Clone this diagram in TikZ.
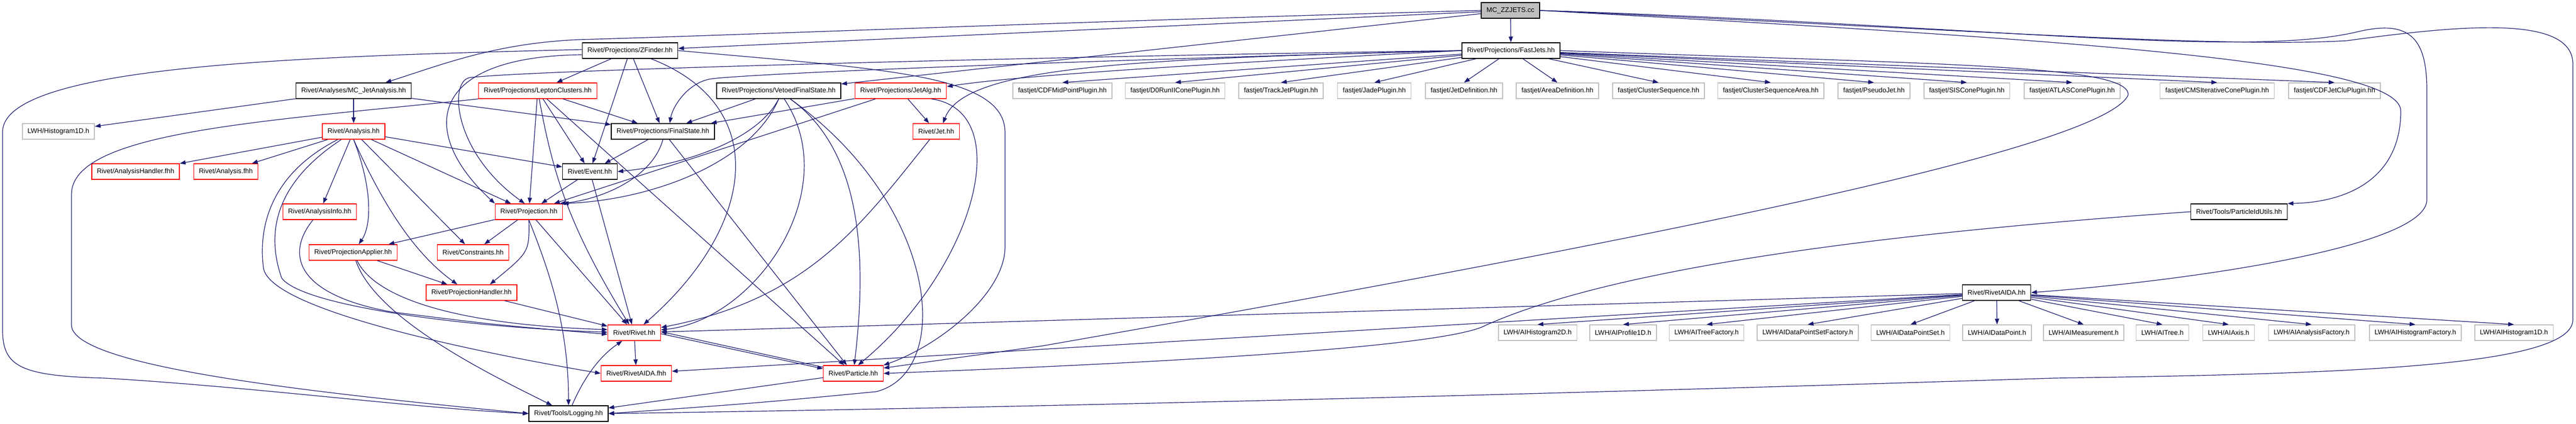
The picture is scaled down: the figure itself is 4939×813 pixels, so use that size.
\documentclass[tikz,border=0pt]{standalone}
\usepackage{fontspec}
\setmainfont{Liberation Sans}
\usetikzlibrary{arrows.meta}

\definecolor{edgeblue}{HTML}{191970}
\definecolor{boxgrey}{HTML}{BFBFBF}
\definecolor{boxred}{HTML}{FF0000}

\begin{document}
\begin{tikzpicture}[x=1pt, y=1pt,
    hdr/.style={draw, line width=1.5pt, minimum height=30pt, inner xsep=10pt, inner ysep=0pt, font=\fontsize{13}{15}\selectfont},
    blk/.style={hdr, draw=black},
    trunc/.style={hdr, draw=boxred},
    ext/.style={hdr, draw=boxgrey},
    dep/.style={draw=edgeblue, line width=1.2pt, -{Triangle[length=11pt, width=8pt]}}]

    \useasboundingbox (0,0) rectangle (4939,813);

    \node[blk, fill=boxgrey] (zz) at (2896,793) {MC\_ZZJETS.cc};
    \node[blk] (zfind) at (1208,716) {Rivet/Projections/ZFinder.hh};
    \node[blk] (fastjets) at (2897,716) {Rivet/Projections/FastJets.hh};
    \node[blk] (mcja) at (678,639) {Rivet/Analyses/MC\_JetAnalysis.hh};
    \node[trunc] (lepclus) at (1031,639) {Rivet/Projections/LeptonClusters.hh};
    \node[blk] (vetofs) at (1493,639) {Rivet/Projections/VetoedFinalState.hh};
    \node[trunc] (jetalg) at (1727,639) {Rivet/Projections/JetAlg.hh};
    \node[ext] (histo) at (112,561) {LWH/Histogram1D.h};
    \node[trunc] (analysis) at (678,561) {Rivet/Analysis.hh};
    \node[blk] (finalst) at (1271,561) {Rivet/Projections/FinalState.hh};
    \node[trunc] (jet) at (1795,561) {Rivet/Jet.hh};
    \node[trunc] (anhandf) at (260,484) {Rivet/AnalysisHandler.fhh};
    \node[trunc] (anfhh) at (433,484) {Rivet/Analysis.fhh};
    \node[blk] (event) at (1131,484) {Rivet/Event.hh};
    \node[trunc] (aninfo) at (613,407) {Rivet/AnalysisInfo.hh};
    \node[trunc] (proj) at (1014,407) {Rivet/Projection.hh};
    \node[blk] (pidutils) at (4293,407) {Rivet/Tools/ParticleIdUtils.hh};
    \node[trunc] (papplier) at (677,329) {Rivet/ProjectionApplier.hh};
    \node[trunc] (constr) at (907,329) {Rivet/Constraints.hh};
    \node[trunc] (phandler) at (904,252) {Rivet/ProjectionHandler.hh};
    \node[blk] (rivetaida) at (3828,252) {Rivet/RivetAIDA.hh};
    \node[trunc] (rivet) at (1216,175) {Rivet/Rivet.hh};
    \node[trunc] (aidafhh) at (1220,97) {Rivet/RivetAIDA.fhh};
    \node[trunc] (particle) at (1636,97) {Rivet/Particle.hh};
    \node[blk] (logging) at (1090,20) {Rivet/Tools/Logging.hh};

    \foreach \n/\x/\lab in {1/2037/CDFMidPointPlugin, 2/2253/D0RunIIConePlugin, 3/2456/TrackJetPlugin,
        4/2635/JadePlugin, 5/2807/JetDefinition, 6/2986/AreaDefinition, 7/3180/ClusterSequence,
        8/3395/ClusterSequenceArea, 9/3593/PseudoJet, 10/3771/SISConePlugin, 11/3973/ATLASConePlugin,
        12/4251/CMSIterativeConePlugin, 13/4476/CDFJetCluPlugin}{
        \node[ext] (fj\n) at (\x,639) {fastjet/\lab.hh};
    }
    \foreach \n/\x/\lab in {1/2948/AIHistogram2D, 2/3112/AIProfile1D, 3/3272/AITreeFactory,
        4/3466/AIDataPointSetFactory, 5/3663/AIDataPointSet, 6/3829/AIDataPoint, 7/3995/AIMeasurement,
        8/4146/AITree, 9/4273/AIAxis, 10/4432/AIAnalysisFactory, 11/4631/AIHistogramFactory, 12/4820/AIHistogram1D}{
        \node[ext] (lwh\n) at (\x,175) {LWH/\lab.h};
    }

    \draw[dep] (zz.west) .. controls (2000,770) and (1400,745) .. (1110,737) .. controls (950,730) and (850,690) .. ([xshift=-50]mcja.north east);
    \draw[dep] (zz) -- (zfind);
    \draw[dep] (zz) -- (vetofs);
    \draw[dep] (zz) -- (fastjets);
    \draw[dep] (zz.east) .. controls (3900,740) and (4603,700) .. (4603,600) .. controls (4603,470) and (4500,425) .. (pidutils.north east);
    \draw[dep] (zz.east) .. controls (3800,765) and (4300,700) .. (4520,752) .. controls (4620,776) and (4653,740) .. (4653,640) -- (4653,430) .. controls (4653,340) and (4200,275) .. (rivetaida.east);
    \draw[dep] (zz.east) .. controls (3700,760) and (4250,720) .. (4500,735) .. controls (4720,765) and (4933,785) .. (4933,690) -- (4933,200) .. controls (4933,110) and (4500,96) .. (3939,88) .. controls (3000,58) and (2000,32) .. (logging.east);

    \draw[dep] (zfind) -- (lepclus);
    \draw[dep] (zfind) -- (finalst);
    \draw[dep] (zfind) -- (event);
    \draw[dep] (zfind) .. controls (1480,610) and (1450,380) .. (rivet);
    \draw[dep] ([yshift=-8]zfind.west) .. controls (820,705) and (800,560) .. (proj.north west);
    \draw[dep] (zfind.east) .. controls (1700,680) and (1925,670) .. (1927,560) -- (1927,340) .. controls (1927,250) and (1800,150) .. (particle.north east);
    \draw[dep] ([yshift=2]zfind.west) .. controls (600,705) and (5,690) .. (5,560) -- (5,180) .. controls (5,110) and (40,92) .. (200,88) .. controls (500,70) and (800,30) .. (logging.west);

    \foreach \n in {1,...,13}{
        \draw[dep] (fastjets) -- (fj\n.north);
    }
    \draw[dep] (fastjets.west) .. controls (2300,690) and (1950,668) .. ([yshift=8]jetalg.east);
    \draw[dep] (fastjets.west) .. controls (2200,700) and (1850,690) .. (jet.50);
    \draw[dep] (fastjets.west) .. controls (2000,695) and (1450,672) .. (1365,662) .. controls (1320,656) and (1290,610) .. ([xshift=13]finalst.north);
    \draw[dep] (fastjets.west) .. controls (2000,705) and (1000,678) .. (900,664) .. controls (860,656) and (870,520) .. ([xshift=-8]proj.north);
    \draw[dep] (fastjets.east) .. controls (3700,690) and (4090,690) .. (4080,630) .. controls (4030,530) and (3200,360) .. (2000,150) -- (particle.10);

    \draw[dep] (mcja) -- (histo);
    \draw[dep] (mcja) -- (analysis);
    \draw[dep] (mcja) -- (finalst);

    \draw[dep] (lepclus) -- (finalst);
    \draw[dep] (lepclus) -- (event);
    \draw[dep] (lepclus) -- (proj);
    \draw[dep] (lepclus) -- (particle);
    \draw[dep] (lepclus) .. controls (1060,480) and (1090,380) .. (rivet);
    \draw[dep] (lepclus.south west) .. controls (500,580) and (137,560) .. (137,440) -- (137,190) .. controls (137,110) and (600,60) .. (logging.west);

    \draw[dep] (vetofs) -- (finalst);
    \draw[dep] (vetofs.south) .. controls (1450,540) and (1300,495) .. (event.east);
    \draw[dep] (vetofs.south) .. controls (1440,500) and (1250,430) .. (proj.north east);
    \draw[dep] (vetofs) .. controls (1620,450) and (1450,200) .. (rivet);
    \draw[dep] (vetofs) .. controls (1660,520) and (1660,300) .. (particle);
    \draw[dep] (vetofs) .. controls (1800,420) and (1830,100) .. (1680,62) .. controls (1450,40) .. (logging.east);

    \draw[dep] (jetalg) -- (finalst);
    \draw[dep] (jetalg) -- (jet);
    \draw[dep] (jetalg) -- (proj);
    \draw[dep] (jetalg.-15) .. controls (1950,600) and (1870,300) .. (particle.60);

    \draw[dep] (finalst) -- (event);
    \draw[dep] (finalst.south) .. controls (1250,470) and (1150,430) .. ([xshift=-6]proj.north east);
    \draw[dep] (finalst) -- (particle);

    \draw[dep] (jet) .. controls (1650,380) and (1550,240) .. (rivet);

    \draw[dep] (analysis) -- (anhandf);
    \draw[dep] (analysis) -- (anfhh);
    \draw[dep] (analysis) -- (aninfo);
    \draw[dep] (analysis.south) .. controls (715,450) and (712,380) .. (papplier);
    \draw[dep] (analysis) -- (constr);
    \draw[dep] (analysis.south) .. controls (730,430) and (790,330) .. (phandler.150);
    \draw[dep] (analysis) -- (proj);
    \draw[dep] (analysis) -- (event);
    \draw[dep] (analysis) .. controls (540,470) and (505,380) .. (540,280) .. controls (580,225) and (900,185) .. ([yshift=1]rivet.west);
    \draw[dep] (analysis) .. controls (520,480) and (495,380) .. (505,300) .. controls (515,220) and (900,140) .. (aidafhh.west);

    \draw[dep] (aninfo) .. controls (550,330) and (560,250) .. (750,215) .. controls (950,190) .. ([yshift=-3]rivet.west);

    \draw[dep] (papplier) -- (phandler);
    \draw[dep] (papplier) .. controls (720,240) and (880,190) .. ([yshift=6]rivet.west);
    \draw[dep] (papplier) .. controls (720,200) and (950,90) .. (logging);

    \draw[dep] (phandler) -- (rivet);

    \draw[dep] (proj) -- (papplier);
    \draw[dep] (proj) -- (constr);
    \draw[dep] (proj.south) .. controls (1015,330) .. (phandler.24);
    \draw[dep] (proj) -- (rivet);
    \draw[dep] (proj.south) .. controls +(40,-100) and +(0,150) .. (logging.north);

    \draw[dep] (event) -- (proj);
    \draw[dep] (event) -- (rivet);

    \draw[dep] (rivet) -- (aidafhh);
    \draw[dep] ([yshift=-2]rivet.east) -- ([yshift=9]particle.west);
    \draw[dep] ([yshift=12]particle.west) -- ([yshift=2]rivet.east);
    \draw[dep] (particle) -- (logging);
    \draw[dep] (logging) .. controls (1120,90) and (1150,130) .. (rivet);

    \draw[dep] (rivetaida) -- (rivet);
    \draw[dep] (rivetaida) -- (aidafhh);
    \foreach \n in {1,...,12}{
        \draw[dep] (rivetaida) -- (lwh\n.north);
    }

    \draw[dep] (pidutils.west) .. controls (3600,365) and (3100,300) .. (2850,190) .. controls (2780,150) and (2300,120) .. (particle.east);
\end{tikzpicture}
\end{document}
